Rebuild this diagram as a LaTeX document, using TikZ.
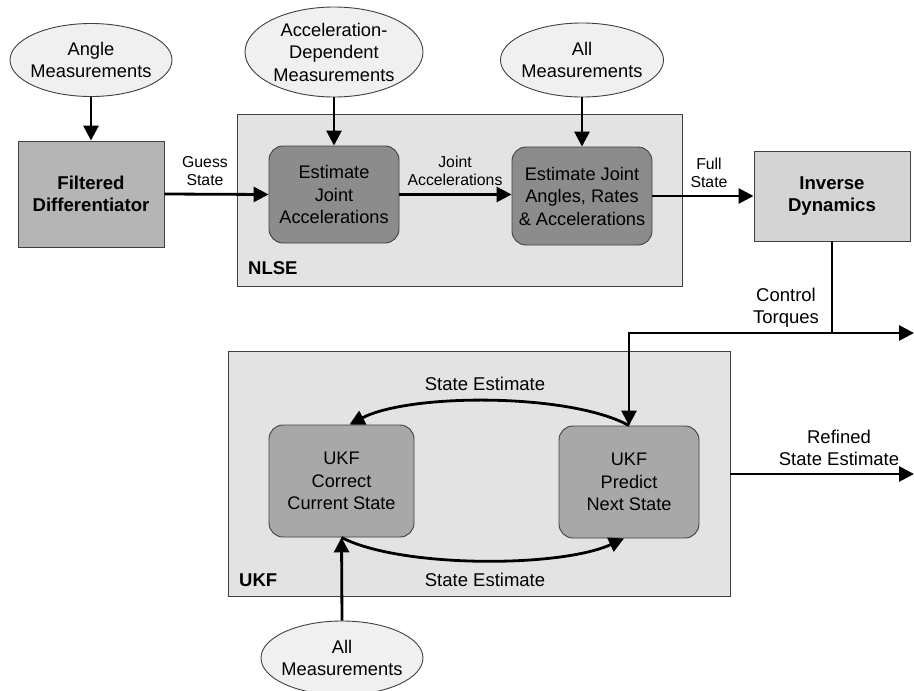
\documentclass[tikz,border=0pt]{standalone}
\usepackage{fontspec}
\setmainfont{Liberation Sans}
\usetikzlibrary{arrows.meta,shapes.geometric}
\definecolor{ellfill}{gray}{0.94}
\definecolor{groupfill}{gray}{0.89}
\definecolor{midfill}{gray}{0.71}
\definecolor{darkfill}{gray}{0.55}
\definecolor{lightbox}{gray}{0.83}
\definecolor{ukfbox}{gray}{0.66}
\definecolor{edge}{gray}{0.25}
\tikzset{
  x=1pt, y=-1pt,
  meas/.style={ellipse, draw=edge, line width=0.9pt, fill=ellfill, inner sep=0pt},
  mtext/.style={align=center, inner sep=0pt, font=\fontsize{18.3}{22.5}\selectfont},
  group/.style={draw=edge, line width=0.9pt, fill=groupfill, inner sep=0pt},
  block/.style={draw=edge, line width=0.9pt, inner sep=0pt, align=center,
    font=\fontsize{18.6}{22.5}\selectfont\bfseries},
  stage/.style={draw=edge, line width=0.9pt, rounded corners=14pt, inner sep=0pt,
    align=center, font=\fontsize{18.2}{22.5}\selectfont},
  flow/.style={line width=2.8pt, -{Triangle[length=15pt,width=15pt]}},
  wire/.style={line width=2.8pt},
  lbl/.style={align=center, inner sep=0pt, font=\fontsize{15.8}{18.5}\selectfont},
  blbl/.style={align=center, inner sep=0pt, font=\fontsize{18.5}{22.5}\selectfont},
}
\begin{document}
\begin{tikzpicture}
\useasboundingbox (0,0) rectangle (914,691);

% group panels
\node[group, minimum width=445, minimum height=172] (nlse) at (459.5,200) {};
\node[group, minimum width=502, minimum height=245] (ukf) at (479,474) {};
\node[anchor=west, inner sep=0pt, font=\fontsize{18.5}{20}\selectfont\bfseries] (nlsetag) at (248,268) {NLSE};
\node[anchor=west, inner sep=0pt, font=\fontsize{18.5}{20}\selectfont\bfseries] (ukftag) at (239,580) {UKF};

% measurement sources
\node[meas, minimum width=162, minimum height=73,
  label={[mtext]center:Angle\\Measurements}] (angm) at (91,60) {};
\node[meas, minimum width=178, minimum height=90,
  label={[mtext]center:Acceleration-\\Dependent\\Measurements}] (accm) at (334,52) {};
\node[meas, minimum width=163, minimum height=74,
  label={[mtext]center:All\\Measurements}] (allm) at (582,60) {};
\node[meas, minimum width=162, minimum height=74,
  label={[mtext]center:All\\Measurements}] (allb) at (342,658) {};

% processing blocks
\node[block, fill=midfill, minimum width=146, minimum height=106] (fdiff) at (91,194) {Filtered\\Differentiator};
\node[stage, fill=darkfill, minimum width=130, minimum height=97] (eja) at (334,194.5) {Estimate\\Joint\\Accelerations};
\node[stage, fill=darkfill, minimum width=140, minimum height=98] (ejr) at (582,196) {Estimate Joint\\Angles, Rates\\\& Accelerations};
\node[block, fill=lightbox, minimum width=156, minimum height=90] (invd) at (832,196) {Inverse\\Dynamics};
\node[stage, fill=ukfbox, minimum width=145, minimum height=112] (corr) at (341.5,481) {UKF\\Correct\\Current State};
\node[stage, fill=ukfbox, minimum width=140, minimum height=112] (pred) at (629,482) {UKF\\Predict\\Next State};

% junction points for the torque and output lines
\coordinate (tq) at (832,333);
\coordinate (tqin) at (629,333);
\coordinate (tqout) at (914,333);
\coordinate (refout) at (914,474);

% connectors
\draw[flow] (angm.south) -- (fdiff.north);
\draw[flow] (accm.south) -- (eja.north);
\draw[flow] (allm.south) -- (ejr.north);
\draw[flow] (fdiff.east) -- (eja.west);
\draw[flow] (eja.east) -- (ejr.west |- eja.east);
\draw[flow] (ejr.east) -- (invd.west);
\draw[wire] (invd.south) -- (tq);
\draw[flow] (tqin) -- (tqout);
\draw[flow] (tq) -- (tqin) -- (pred.north);
\draw[flow] (ukf.east |- refout) -- (refout);
\draw[flow] (allb.north) -- (corr.south);
\draw[flow] (pred.north) .. controls (570,393) and (410,393) .. ([xshift=8pt]corr.north);
\draw[flow] (corr.south) .. controls (400,568) and (560,568) .. ([xshift=-5pt]pred.south);

% connector labels
\node[lbl] (lguess) at (205,171) {Guess\\State};
\node[lbl] (ljoint) at (455,171) {Joint\\Accelerations};
\node[lbl] (lfull) at (709,173) {Full\\State};
\node[blbl] (lctrl) at (786,307.5) {Control\\Torques};
\node[blbl] (lse1) at (485,384) {State Estimate};
\node[blbl] (lse2) at (485,580) {State Estimate};
\node[blbl] (lref) at (839,448) {Refined\\State Estimate};
\end{tikzpicture}
\end{document}
